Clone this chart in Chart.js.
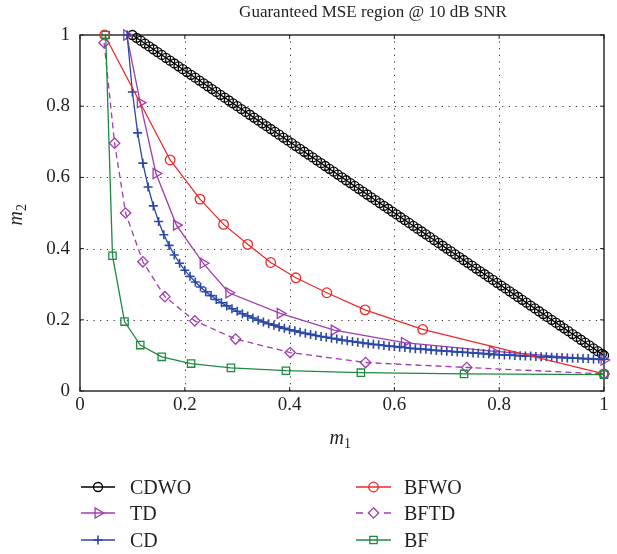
<!DOCTYPE html>
<html><head><meta charset="utf-8">
<script src="https://cdn.jsdelivr.net/npm/chart.js@4.4.1/dist/chart.umd.min.js"></script>
<style>html,body{margin:0;padding:0;background:#fff;}#wrap{width:617px;height:554px;}</style>
</head><body><div id="wrap"><canvas id="c" width="617" height="554"></canvas></div>
<script>
// ---------- data ----------
const titleText = 'Guaranteed MSE region @ 10 dB SNR';
const xTicks = [0, 0.2, 0.4, 0.6, 0.8, 1];
const yTicks = [0, 0.2, 0.4, 0.6, 0.8, 1];
const seriesNames = ['CDWO', 'TD', 'CD', 'BFWO', 'BFTD', 'BF'];

const cdwoM1 = [0.100,0.108,0.116,0.124,0.132,0.140,0.148,0.156,0.164,0.172,
0.180,0.188,0.196,0.204,0.212,0.220,0.228,0.236,0.244,0.252,
0.260,0.268,0.276,0.284,0.292,0.300,0.308,0.316,0.324,0.332,
0.340,0.348,0.356,0.364,0.372,0.380,0.388,0.396,0.404,0.412,
0.420,0.428,0.436,0.444,0.452,0.460,0.468,0.476,0.484,0.492,
0.500,0.508,0.516,0.524,0.532,0.540,0.548,0.556,0.564,0.572,
0.580,0.588,0.596,0.604,0.612,0.620,0.628,0.636,0.644,0.652,
0.660,0.668,0.676,0.684,0.692,0.700,0.708,0.716,0.724,0.732,
0.740,0.748,0.756,0.764,0.772,0.780,0.788,0.796,0.804,0.812,
0.820,0.828,0.836,0.844,0.852,0.860,0.868,0.876,0.884,0.892,
0.900,0.908,0.916,0.924,0.932,0.940,0.948,0.956,0.964,0.972,
0.980,0.988,0.996,1.000];
const cdwoM2 = [1.000,0.992,0.984,0.976,0.968,0.960,0.952,0.944,0.936,0.928,
0.920,0.912,0.904,0.896,0.888,0.880,0.872,0.864,0.856,0.848,
0.840,0.832,0.824,0.816,0.808,0.800,0.792,0.784,0.776,0.768,
0.760,0.752,0.744,0.736,0.728,0.720,0.712,0.704,0.696,0.688,
0.680,0.672,0.664,0.656,0.648,0.640,0.632,0.624,0.616,0.608,
0.600,0.592,0.584,0.576,0.568,0.560,0.552,0.544,0.536,0.528,
0.520,0.512,0.504,0.496,0.488,0.480,0.472,0.464,0.456,0.448,
0.440,0.432,0.424,0.416,0.408,0.400,0.392,0.384,0.376,0.368,
0.360,0.352,0.344,0.336,0.328,0.320,0.312,0.304,0.296,0.288,
0.280,0.272,0.264,0.256,0.248,0.240,0.232,0.224,0.216,0.208,
0.200,0.192,0.184,0.176,0.168,0.160,0.152,0.144,0.136,0.128,
0.120,0.112,0.104,0.100];

const tdM1 = [0.089,0.115,0.145,0.184,0.235,0.284,0.382,0.485,0.619,0.787,1.000];
const tdM2 = [1.000,0.810,0.611,0.466,0.359,0.276,0.218,0.171,0.136,0.112,0.087];

const cdM1 = [0.09,0.10,0.11,0.12,0.13,0.14,0.15,0.16,0.17,0.18,
0.19,0.20,0.21,0.22,0.23,0.24,0.25,0.26,0.27,0.28,
0.29,0.30,0.31,0.32,0.33,0.34,0.35,0.36,0.37,0.38,
0.39,0.40,0.41,0.42,0.43,0.44,0.45,0.46,0.47,0.48,
0.49,0.50,0.51,0.52,0.53,0.54,0.55,0.56,0.57,0.58,
0.59,0.60,0.61,0.62,0.63,0.64,0.65,0.66,0.67,0.68,
0.69,0.70,0.71,0.72,0.73,0.74,0.75,0.76,0.77,0.78,
0.79,0.80,0.81,0.82,0.83,0.84,0.85,0.86,0.87,0.88,
0.89,0.90,0.91,0.92,0.93,0.94,0.95,0.96,0.97,0.98,
0.99,1.00];
const cdM2 = [1.000,0.840,0.725,0.640,0.573,0.520,0.476,0.439,0.409,0.382,
0.359,0.339,0.322,0.306,0.292,0.279,0.268,0.257,0.248,0.239,
0.231,0.224,0.217,0.211,0.205,0.199,0.194,0.189,0.185,0.180,
0.176,0.172,0.169,0.165,0.162,0.159,0.156,0.153,0.151,0.148,
0.146,0.143,0.141,0.139,0.137,0.135,0.133,0.131,0.130,0.128,
0.126,0.125,0.123,0.122,0.120,0.119,0.118,0.117,0.115,0.114,
0.113,0.112,0.111,0.110,0.109,0.108,0.107,0.106,0.105,0.104,
0.103,0.102,0.101,0.101,0.100,0.099,0.098,0.098,0.097,0.096,
0.096,0.095,0.094,0.094,0.093,0.092,0.092,0.091,0.091,0.090,
0.090,0.089];

const bfwoM1 = [0.047,0.172,0.229,0.274,0.320,0.364,0.412,0.471,0.544,0.654,1.000];
const bfwoM2 = [1.000,0.649,0.539,0.468,0.412,0.361,0.318,0.276,0.228,0.173,0.048];

const bftdM1 = [0.046,0.066,0.087,0.120,0.162,0.219,0.297,0.401,0.545,0.738,1.000];
const bftdM2 = [0.978,0.696,0.500,0.363,0.265,0.197,0.146,0.108,0.080,0.066,0.048];

const bfM1 = [0.049,0.062,0.085,0.115,0.156,0.212,0.288,0.393,0.536,0.733,1.000];
const bfM2 = [1.000,0.380,0.195,0.129,0.096,0.077,0.065,0.057,0.0515,0.048,0.046];

// ---------- styles ----------
const FONT = '"Liberation Serif", "DejaVu Serif", serif';
const TXT = '#231f20';
const styles = [
  {color:'#000000', pt:'circle', r:4.5, rot:0, dash:[], pw:1.3},
  {color:'#a03cb0', pt:'triangle', r:5.8, rot:90, dash:[], pw:1.3},
  {color:'#2a48a8', pt:'cross', r:4.5, rot:0, dash:[], pw:1.6},
  {color:'#ee2a2a', pt:'circle', r:4.8, rot:0, dash:[], pw:1.3},
  {color:'#a03cb0', pt:'rectRot', r:5.2, rot:0, dash:[6,4], pw:1.3},
  {color:'#1d8a40', pt:'rect', r:5.2, rot:0, dash:[], pw:1.3}
];
const xs = [cdwoM1, tdM1, cdM1, bfwoM1, bftdM1, bfM1];
const ys = [cdwoM2, tdM2, cdM2, bfwoM2, bftdM2, bfM2];

const datasets = seriesNames.map((n, i) => ({
  label: n,
  data: xs[i].map((x, k) => ({x: x, y: ys[i][k]})),
  borderColor: styles[i].color,
  borderWidth: 1.3,
  borderDash: styles[i].dash,
  pointStyle: styles[i].pt,
  pointRadius: styles[i].r,
  pointRotation: styles[i].rot,
  pointBorderColor: styles[i].color,
  pointBorderWidth: styles[i].pw,
  pointBackgroundColor: 'rgba(0,0,0,0)',
  pointHoverRadius: styles[i].r,
  tension: 0,
  fill: false,
  clip: false,
  order: 6 - i
}));

function drawMarker(ctx, st, x, y) {
  ctx.save();
  ctx.strokeStyle = st.color; ctx.lineWidth = st.pw; ctx.setLineDash([]);
  ctx.beginPath();
  const r = st.r;
  if (st.pt === 'circle') { ctx.arc(x, y, r, 0, Math.PI*2); }
  else if (st.pt === 'triangle') {
    for (let k = 0; k < 3; k++) {
      const a = (st.rot*Math.PI/180) + k*2*Math.PI/3;
      const px = x + Math.sin(a)*r, py = y - Math.cos(a)*r;
      if (k === 0) ctx.moveTo(px, py); else ctx.lineTo(px, py);
    }
    ctx.closePath();
  }
  else if (st.pt === 'cross') { ctx.moveTo(x, y-r); ctx.lineTo(x, y+r); ctx.moveTo(x-r, y); ctx.lineTo(x+r, y); }
  else if (st.pt === 'rectRot') { ctx.moveTo(x, y-r); ctx.lineTo(x+r, y); ctx.lineTo(x, y+r); ctx.lineTo(x-r, y); ctx.closePath(); }
  else if (st.pt === 'rect') { const s = r*Math.SQRT1_2; ctx.rect(x-s, y-s, 2*s, 2*s); }
  ctx.stroke();
  ctx.restore();
}

const framePlugin = {
  id: 'frame',
  beforeDatasetsDraw(chart) {
    const {ctx, chartArea: a, scales} = chart;
    ctx.save();
    ctx.strokeStyle = '#333'; ctx.lineWidth = 1; ctx.setLineDash([1.2, 5.5]);
    xTicks.forEach(v => {
      if (v <= 0 || v >= 1) return;
      const px = Math.round(scales.x.getPixelForValue(v)) + 0.5;
      ctx.beginPath(); ctx.moveTo(px, a.bottom); ctx.lineTo(px, a.top); ctx.stroke();
    });
    yTicks.forEach(v => {
      if (v <= 0 || v >= 1) return;
      const py = Math.round(scales.y.getPixelForValue(v)) + 0.5;
      ctx.beginPath(); ctx.moveTo(a.left, py); ctx.lineTo(a.right, py); ctx.stroke();
    });
    ctx.setLineDash([]);
    ctx.strokeStyle = TXT; ctx.lineWidth = 1.4;
    ctx.strokeRect(a.left, a.top, a.right - a.left, a.bottom - a.top);
    ctx.lineWidth = 1;
    xTicks.forEach(v => {
      const px = scales.x.getPixelForValue(v);
      ctx.beginPath(); ctx.moveTo(px, a.bottom); ctx.lineTo(px, a.bottom - 4);
      ctx.moveTo(px, a.top); ctx.lineTo(px, a.top + 4); ctx.stroke();
    });
    yTicks.forEach(v => {
      const py = scales.y.getPixelForValue(v);
      ctx.beginPath(); ctx.moveTo(a.left, py); ctx.lineTo(a.left + 4, py);
      ctx.moveTo(a.right, py); ctx.lineTo(a.right - 4, py); ctx.stroke();
    });
    ctx.restore();
  },
  afterDraw(chart) {
    const {ctx, chartArea: a} = chart;
    ctx.save();
    ctx.fillStyle = TXT;
    // title
    ctx.font = '17px ' + FONT;
    ctx.textAlign = 'center'; ctx.textBaseline = 'alphabetic';
    ctx.fillText(titleText, 373, 17);
    // x label m1
    const cx = (a.left + a.right) / 2;
    ctx.font = 'italic 20px ' + FONT;
    ctx.textAlign = 'right';
    ctx.fillText('m', cx + 2, 444);
    ctx.font = '14px ' + FONT; ctx.textAlign = 'left';
    ctx.fillText('1', cx + 2, 448);
    // y label m2
    ctx.save();
    ctx.translate(22, (a.top + a.bottom) / 2);
    ctx.rotate(-Math.PI / 2);
    ctx.font = 'italic 20px ' + FONT; ctx.textAlign = 'right';
    ctx.fillText('m', 2, 0);
    ctx.font = '14px ' + FONT; ctx.textAlign = 'left';
    ctx.fillText('2', 2, 4);
    ctx.restore();
    // legend
    const cols = [{x0: 81, x1: 115, tx: 130}, {x0: 356, x1: 391, tx: 404}];
    const rows = [487, 513, 540];
    ctx.font = '20px ' + FONT; ctx.textAlign = 'left'; ctx.textBaseline = 'alphabetic';
    seriesNames.forEach((n, i) => {
      const c = cols[Math.floor(i / 3)], y = rows[i % 3], st = styles[i];
      ctx.save();
      ctx.strokeStyle = st.color; ctx.lineWidth = 1.3;
      if (st.dash.length) {
        ctx.beginPath(); ctx.moveTo(c.x0, y); ctx.lineTo(c.x0 + 7, y);
        ctx.moveTo(c.x1 - 7, y); ctx.lineTo(c.x1, y); ctx.stroke();
      } else {
        ctx.beginPath(); ctx.moveTo(c.x0, y); ctx.lineTo(c.x1, y); ctx.stroke();
      }
      ctx.restore();
      drawMarker(ctx, st, (c.x0 + c.x1) / 2, y);
      ctx.fillStyle = TXT;
      ctx.fillText(n, c.tx, y + 7);
    });
    ctx.restore();
  }
};

new Chart(document.getElementById('c'), {
  type: 'line',
  data: {datasets: datasets},
  options: {
    responsive: false, animation: false, devicePixelRatio: 1,
    layout: {padding: {top: 35, right: 13, left: 0, bottom: 0}},
    plugins: {legend: {display: false}, title: {display: false}, tooltip: {enabled: false}},
    scales: {
      x: {
        type: 'linear', min: 0, max: 1,
        afterBuildTicks(s) { s.ticks = xTicks.map(v => ({value: v})); },
        ticks: {font: {family: FONT, size: 19}, color: TXT, padding: 3, maxRotation: 0,
          callback: v => String(v)},
        grid: {display: false, drawTicks: false, tickLength: 0},
        border: {display: false},
        afterFit(s) { s.height = 163; }
      },
      y: {
        type: 'linear', min: 0, max: 1,
        afterBuildTicks(s) { s.ticks = yTicks.map(v => ({value: v})); },
        ticks: {font: {family: FONT, size: 19}, color: TXT, padding: 10,
          callback: v => String(v)},
        grid: {display: false, drawTicks: false, tickLength: 0},
        border: {display: false},
        afterFit(s) { s.width = 80; }
      }
    }
  },
  plugins: [framePlugin]
});
</script></body></html>
